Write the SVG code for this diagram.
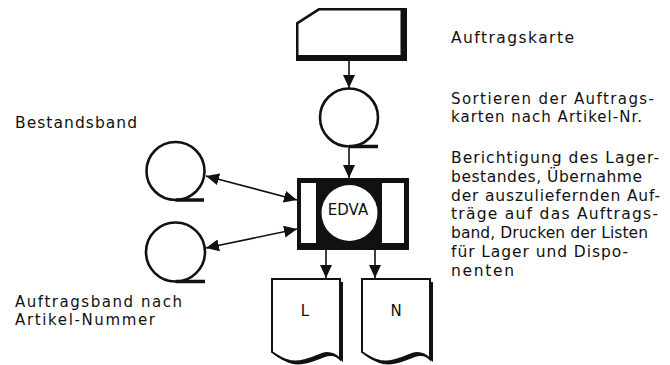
<svg xmlns="http://www.w3.org/2000/svg" width="670" height="365" viewBox="0 0 670 365">
<style>
text{font-family:"DejaVu Sans","Liberation Sans",sans-serif;font-size:15.5px;fill:#111}
.lbl{font-size:15px}
.sm{font-size:15px}
.ln{stroke:#111;stroke-width:1.6;fill:none}
.tape{fill:#fff;stroke:#111;stroke-width:2.6}
.tail{stroke:#111;stroke-width:3.5}
.doc{fill:#fff;stroke:#111;stroke-width:2}
.shadow{fill:#111}
</style>
<defs>
<marker id="ah" viewBox="0 0 13 12" refX="13" refY="6" markerWidth="13" markerHeight="12" markerUnits="userSpaceOnUse" orient="auto-start-reverse">
<path d="M0,0 L13,6 L0,12 Z" fill="#111"/>
</marker>
<path id="docshape" d="M272,279 H340 V359 C334,353 328,352 322,354 C312,358 300,363 290,361 C282,359 276,355 272,352 Z"/>
</defs>
<rect width="670" height="365" fill="#fff"/>

<g id="connectors">
<line class="ln" x1="349" y1="61" x2="349" y2="88" marker-end="url(#ah)"/>
<line class="ln" x1="349" y1="148" x2="349" y2="178" marker-end="url(#ah)"/>
<line class="ln" x1="206" y1="176" x2="297" y2="200" marker-start="url(#ah)" marker-end="url(#ah)"/>
<line class="ln" x1="297" y1="229" x2="206" y2="248" marker-start="url(#ah)" marker-end="url(#ah)"/>
<line class="ln" x1="326" y1="250" x2="326" y2="278" marker-end="url(#ah)"/>
<line class="ln" x1="375" y1="250" x2="375" y2="278" marker-end="url(#ah)"/>
</g>

<g id="card">
<polygon points="296,22.5 318.5,8 407,8 407,61 296,61" fill="#111"/>
<polygon points="298.5,24 319.5,10.5 400.5,10.5 400.5,55 298.5,55" fill="#fff"/>
</g>
<text x="451" y="43" textLength="123" lengthAdjust="spacing">Auftragskarte</text>

<g id="tape-sort">
<circle class="tape" cx="349" cy="117.5" r="29"/>
<line class="tail" x1="349" y1="146.5" x2="378" y2="146.5"/>
</g>
<text class="sm" x="451" y="104" textLength="203" lengthAdjust="spacing">Sortieren der Auftrags-</text>
<text class="sm" x="451" y="122" textLength="191" lengthAdjust="spacing">karten nach Artikel-Nr.</text>

<g id="edva">
<rect x="297" y="178" width="112" height="72" fill="#111"/>
<rect x="301" y="183" width="15" height="60" fill="#fff"/>
<rect x="382" y="183" width="22" height="60" fill="#fff"/>
<circle cx="349.5" cy="213" r="28" fill="#fff"/>
<text class="lbl" x="348" y="215" text-anchor="middle">EDVA</text>
</g>

<g id="tape-bestand">
<circle class="tape" cx="175.5" cy="171" r="29"/>
<line class="tail" x1="175.5" y1="200" x2="204" y2="200"/>
</g>
<text x="15" y="128" textLength="122" lengthAdjust="spacing">Bestandsband</text>

<g id="tape-auftrag">
<circle class="tape" cx="175.5" cy="252" r="29.5"/>
<line class="tail" x1="175.5" y1="281.5" x2="205" y2="281.5"/>
</g>
<text class="sm" x="15" y="306.5" textLength="167" lengthAdjust="spacing">Auftragsband nach</text>
<text class="sm" x="15" y="324.5" textLength="140" lengthAdjust="spacing">Artikel-Nummer</text>

<g id="doc-L">
<use href="#docshape" class="shadow" transform="translate(3,3)"/>
<use href="#docshape" class="doc"/>
<text class="lbl" x="305" y="316" text-anchor="middle">L</text>
</g>

<g id="doc-N">
<use href="#docshape" class="shadow" transform="translate(93,3)"/>
<use href="#docshape" class="doc" transform="translate(90,0)"/>
<text class="lbl" x="396" y="316" text-anchor="middle">N</text>
</g>

<g id="description">
<text x="451" y="163" textLength="208" lengthAdjust="spacing">Berichtigung des Lager-</text>
<text x="451" y="182" textLength="191" lengthAdjust="spacing">bestandes, Übernahme</text>
<text x="451" y="200.5" textLength="209" lengthAdjust="spacing">der auszuliefernden Auf-</text>
<text x="451" y="219" textLength="207" lengthAdjust="spacing">träge auf das Auftrags-</text>
<text x="451" y="238" textLength="197" lengthAdjust="spacing">band, Drucken der Listen</text>
<text x="451" y="257" textLength="177" lengthAdjust="spacing">für Lager und Dispo-</text>
<text x="451" y="276" textLength="63" lengthAdjust="spacing">nenten</text>
</g>
</svg>
